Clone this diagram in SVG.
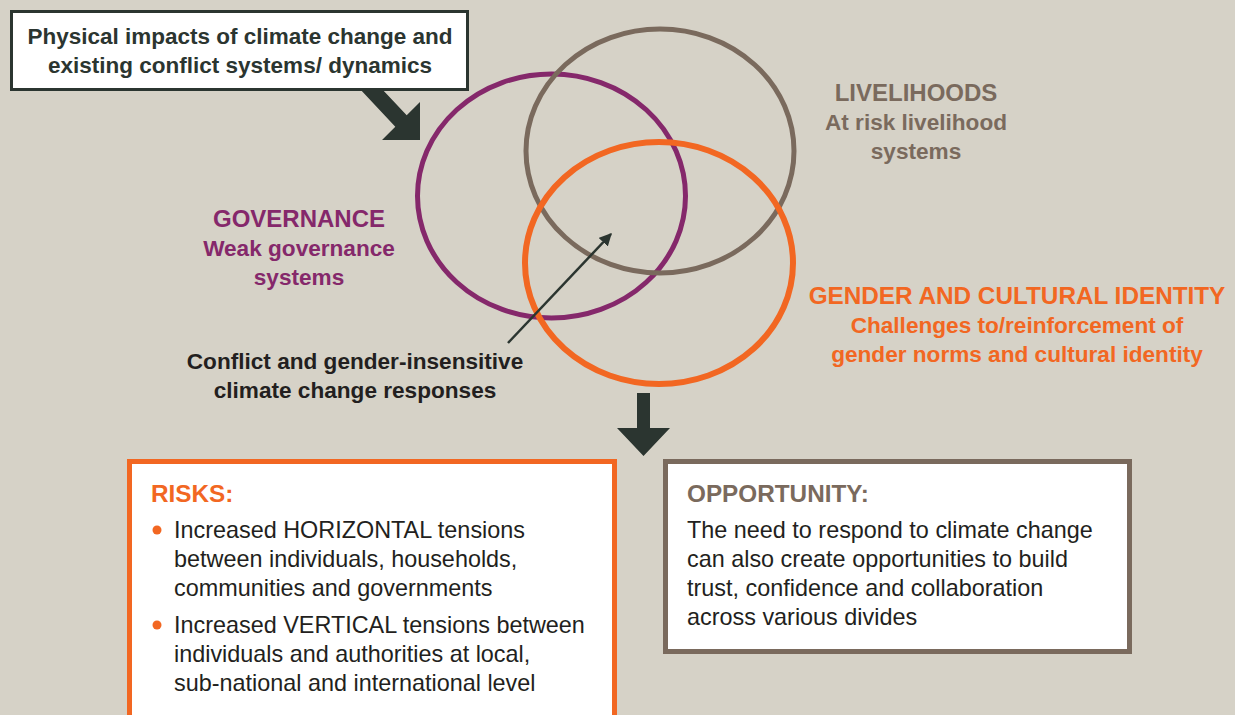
<svg xmlns="http://www.w3.org/2000/svg" width="1235" height="715" viewBox="0 0 1235 715">
<defs>
<style>
text{font-family:"Liberation Sans",Arial,sans-serif;}
.b{font-weight:bold;}
.dk{fill:#2b3530;}
.tx{fill:#231f20;}
.pu{fill:#85286b;}
.br{fill:#7a6a5d;}
.or{fill:#f26722;}
.ring{fill:none;}
.body{font-size:23.4px;fill:#231f20;}
.hd{font-size:24.3px;}
.sub{font-size:22.6px;}
</style>
<marker id="ah" viewBox="0 0 10 10" refX="9" refY="5" markerWidth="5" markerHeight="5" orient="auto" markerUnits="strokeWidth">
<path d="M0,0 L10,5 L0,10 z" fill="#2b3530"/>
</marker>
</defs>
<rect x="0" y="0" width="1235" height="715" fill="#d6d2c7"/>

<g id="connectors">
<polygon points="359,88 381,88 406.7,115.3 420,102 420,140 382,140 395.3,126.7" fill="#2b3530"/>
<polygon points="637,393 650,393 650,428 670,428 643.5,456 617,428 637,428" fill="#2b3530"/>
</g>

<g id="circle-governance">
<ellipse class="ring" cx="551.5" cy="196" rx="134" ry="122" stroke="#85286b" stroke-width="5"/>
</g>
<g id="circle-livelihoods">
<ellipse class="ring" cx="660" cy="151" rx="134" ry="122" stroke="#7a6a5d" stroke-width="5"/>
</g>
<g id="circle-gender">
<ellipse class="ring" cx="659" cy="263" rx="134" ry="121" stroke="#f26722" stroke-width="6"/>
</g>

<g id="thin-arrow">
<line x1="508" y1="343" x2="611" y2="234" stroke="#2b3530" stroke-width="2.5" marker-end="url(#ah)"/>
</g>

<g id="node-source">
<rect x="11.5" y="11.5" width="456" height="78" fill="#ffffff" stroke="#2b3530" stroke-width="3"/>
<text class="b dk" x="240" y="44" font-size="22.5" text-anchor="middle">Physical impacts of climate change and</text>
<text class="b dk" x="240" y="73" font-size="22.5" text-anchor="middle">existing conflict systems/ dynamics</text>
</g>

<g id="label-livelihoods">
<text class="b br" x="916" y="101" font-size="24" text-anchor="middle">LIVELIHOODS</text>
<text class="b br sub" x="916" y="130" text-anchor="middle">At risk livelihood</text>
<text class="b br sub" x="916" y="159" text-anchor="middle">systems</text>
</g>

<g id="label-governance">
<text class="b pu" x="299" y="227" font-size="24" text-anchor="middle">GOVERNANCE</text>
<text class="b pu sub" x="299" y="256" text-anchor="middle">Weak governance</text>
<text class="b pu sub" x="299" y="285" text-anchor="middle">systems</text>
</g>

<g id="label-gender">
<text class="b or hd" x="1017" y="304" text-anchor="middle">GENDER AND CULTURAL IDENTITY</text>
<text class="b or sub" x="1017" y="333" text-anchor="middle">Challenges to/reinforcement of</text>
<text class="b or sub" x="1017" y="362" text-anchor="middle">gender norms and cultural identity</text>
</g>

<g id="label-responses">
<text class="b tx sub" x="355" y="369" text-anchor="middle">Conflict and gender-insensitive</text>
<text class="b tx sub" x="355" y="398" text-anchor="middle">climate change responses</text>
</g>

<g id="node-risks">
<rect x="129.5" y="461.5" width="485" height="270" fill="#ffffff" stroke="#f26722" stroke-width="5"/>
<text class="b or hd" x="151" y="502">RISKS:</text>
<circle cx="157" cy="530" r="4.5" fill="#f26722"/>
<text class="body" x="174" y="538">Increased HORIZONTAL tensions</text>
<text class="body" x="174" y="567">between individuals, households,</text>
<text class="body" x="174" y="596">communities and governments</text>
<circle cx="157" cy="625" r="4.5" fill="#f26722"/>
<text class="body" x="174" y="633">Increased VERTICAL tensions between</text>
<text class="body" x="174" y="662">individuals and authorities at local,</text>
<text class="body" x="174" y="691">sub-national and international level</text>
</g>

<g id="node-opportunity">
<rect x="665.5" y="461.5" width="464" height="190" fill="#ffffff" stroke="#7a6a5d" stroke-width="5"/>
<text class="b br hd" x="687" y="502">OPPORTUNITY:</text>
<text class="body" x="687" y="538">The need to respond to climate change</text>
<text class="body" x="687" y="567">can also create opportunities to build</text>
<text class="body" x="687" y="596">trust, confidence and collaboration</text>
<text class="body" x="687" y="625">across various divides</text>
</g>
</svg>
